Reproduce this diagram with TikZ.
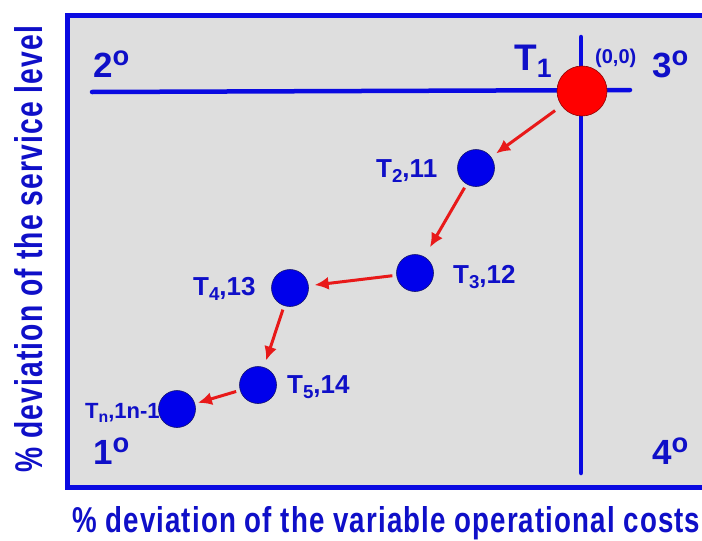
\documentclass[tikz,border=0pt]{standalone}
\usepackage{fontspec}
\setmainfont{Liberation Sans}
\usetikzlibrary{arrows.meta}
\definecolor{qblue}{RGB}{10,10,225}
\definecolor{tblue}{RGB}{15,15,200}
\definecolor{dotblue}{RGB}{0,0,235}
\definecolor{dotline}{RGB}{20,20,110}
\definecolor{bgray}{RGB}{222,222,222}
\definecolor{arrred}{RGB}{232,25,25}
\newcommand{\lowsub}[1]{\raisebox{-0.2em}{\scalebox{0.72}{#1}}}
\newcommand{\ordo}{\raisebox{0.33em}{\scalebox{0.78}{o}}}
\begin{document}
\begin{tikzpicture}[x=1pt,y=-1pt,
  dot/.style={circle, fill=dotblue, draw=dotline, line width=0.6pt, minimum size=37pt, inner sep=0pt},
  lbl/.style={text=tblue, font=\bfseries\fontsize{26}{26}\selectfont, inner sep=0pt, anchor=base west},
  quad/.style={text=tblue, font=\bfseries\fontsize{35}{35}\selectfont, inner sep=0pt, anchor=base west},
  axis/.style={qblue, line width=4.5pt, line cap=round},
  ttl/.style={text=tblue, font=\bfseries\addfontfeatures{LetterSpace=4}, inner sep=0pt, anchor=base west},
  arr/.style={-{Latex[length=14pt,width=13pt]}, arrred, line width=3pt, shorten <=4pt, shorten >=6pt}]
\useasboundingbox (0,0) rectangle (702,541);
\fill[white] (0,0) rectangle (702,541);
% frame
\fill[bgray] (67,15) rectangle (720,487);
\draw[qblue, line width=5pt] (720,15) -- (67,15) -- (67,487) -- (720,487);
% quadrant axes
\coordinate (hl) at (92,92);
\coordinate (hr) at (630,90);
\coordinate (vt) at (581,37);
\coordinate (vb) at (581,473);
\draw[axis] (hl) -- (hr);
\draw[axis] (vt) -- (vb);
% points
\node[circle, fill=red, draw=red!55!black, line width=0.6pt, minimum size=50pt, inner sep=0pt] (t1) at (582,91) {};
\node[dot] (t2) at (476,168) {};
\node[dot] (t3) at (415,273) {};
\node[dot] (t4) at (290,288) {};
\node[dot] (t5) at (258,385) {};
\node[dot] (tn) at (177,409) {};
% arrows
\draw[arr, shorten <=8pt] (t1) -- (t2);
\draw[arr, shorten >=11pt] (t2) -- (t3);
\draw[arr] (t3) -- (t4);
\draw[arr, shorten >=7pt] (t4) -- (t5);
\draw[arr, shorten >=3pt] (t5) -- (tn);
% labels
\node[lbl, font=\bfseries\fontsize{37}{37}\selectfont] (l1) at (514,70) {T\lowsub{1}};
\node[lbl, font=\bfseries\fontsize{20}{20}\selectfont] (l0) at (595,63) {(0,0)};
\node[lbl] (l2) at (376,177) {T\lowsub{2},11};
\node[lbl] (l3) at (453,283) {T\lowsub{3},12};
\node[lbl] (l4) at (193,295) {T\lowsub{4},13};
\node[lbl] (l5) at (287,393) {T\lowsub{5},14};
\node[lbl, font=\bfseries\fontsize{22}{22}\selectfont] (ln) at (85,418) {T\lowsub{n},1n-1};
\node[quad] (q2) at (93,77) {2\ordo};
\node[quad] (q3) at (652,77) {3\ordo};
\node[quad] (q1) at (93,464) {1\ordo};
\node[quad] (q4) at (652,464) {4\ordo};
% axis titles
\node[ttl] (xt) at (72,532)
  {\resizebox{628pt}{26pt}{\% deviation of the variable operational costs}};
\node[ttl, rotate=90] (yt) at (42,473)
  {\resizebox{447pt}{28pt}{\% deviation of the service level}};
\end{tikzpicture}
\end{document}
